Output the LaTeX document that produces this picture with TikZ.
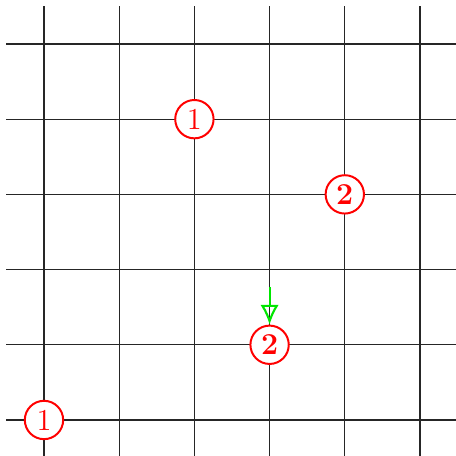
\documentclass[tikz,border=0pt]{standalone}
\usetikzlibrary{arrows.meta}
\definecolor{brightgreen}{RGB}{0,230,0}
\begin{document}
\begin{tikzpicture}[
  gridline/.style={black!85, line width=0.4pt},
  circmark/.style={circle, draw=red, line width=0.75pt, text=red, fill=white,
    minimum size=0.51cm, inner sep=0pt, font=\fontsize{11.5}{12}\selectfont},
  boldcircmark/.style={circmark, font=\fontsize{11.5}{12}\selectfont\bfseries},
  pointer/.style={draw=brightgreen, line width=0.8pt, -{Latex[open,length=7.5pt,width=7pt]}}
]
\useasboundingbox (-0.585,-0.479) rectangle (5.479,5.585);
\draw[gridline] (-0.5,-0.5) grid (5.5,5.5);
\node[circmark] (a) at (2,4) {1};
\node[boldcircmark] (b) at (4,3) {2};
\node[boldcircmark] (c) at (3,1) {2};
\node[circmark] (d) at (0,0) {1};
\coordinate (s) at (3,1.77);
\draw[pointer] (s) -- (c);
\end{tikzpicture}
\end{document}
